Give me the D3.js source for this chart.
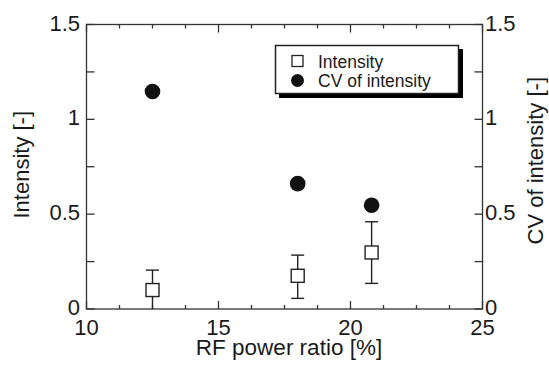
<!DOCTYPE html>
<html><head><meta charset="utf-8">
<script src="https://cdn.jsdelivr.net/npm/d3@7"></script>
<style>
body{margin:0;background:#fff;}
svg text{font-family:"Liberation Sans",Arial,sans-serif;fill:#1a1a1a;}
</style></head>
<body><svg id="c" width="549" height="365"></svg>
<script>
// data
const rfPower = [12.5, 18, 20.8];
const intensity = [0.10, 0.175, 0.298];
const intensityLow = [0.0, 0.056, 0.135];
const intensityHigh = [0.205, 0.284, 0.46];
const cvIntensity = [1.147, 0.661, 0.547];
const xTickLabels = [10, 15, 20, 25];
const yTickLabels = [0, 0.5, 1, 1.5];
const legendLabels = ["Intensity", "CV of intensity"];

const svg = d3.select("#c");
const L = 86.5, R = 482.5, T = 24.5, B = 309;
const x = d3.scaleLinear().domain([10, 25]).range([L, R]);
const y = d3.scaleLinear().domain([0, 1.5]).range([B, T]);
const y2 = d3.scaleLinear().domain([0, 1.5]).range([B, T]);
const axisColor = "#333";

// frame
svg.append("rect").attr("x", L).attr("y", T).attr("width", R - L).attr("height", B - T)
  .attr("fill", "none").attr("stroke", axisColor).attr("stroke-width", 1.3);

// x ticks (inward, bottom and top)
const xMinor = d3.range(10, 25.001, 1.25);
xMinor.forEach(v => {
  const major = Math.abs(v % 5) < 1e-6;
  const len = major ? 8 : 4;
  svg.append("line").attr("x1", x(v)).attr("x2", x(v)).attr("y1", B).attr("y2", B - len)
    .attr("stroke", axisColor).attr("stroke-width", 1.3);
  svg.append("line").attr("x1", x(v)).attr("x2", x(v)).attr("y1", T).attr("y2", T + len)
    .attr("stroke", axisColor).attr("stroke-width", 1.3);
});
// y ticks (inward, left and right)
d3.range(0, 1.5001, 0.25).forEach(v => {
  svg.append("line").attr("x1", L).attr("x2", L + 8).attr("y1", y(v)).attr("y2", y(v))
    .attr("stroke", axisColor).attr("stroke-width", 1.3);
  svg.append("line").attr("x1", R).attr("x2", R - 8).attr("y1", y2(v)).attr("y2", y2(v))
    .attr("stroke", axisColor).attr("stroke-width", 1.3);
});

// tick labels
const fmt = d => String(d);
svg.selectAll(".xl").data(xTickLabels).enter().append("text")
  .attr("x", d => x(d)).attr("y", 335).attr("text-anchor", "middle")
  .attr("font-size", 22).text(fmt);
svg.selectAll(".yl").data(yTickLabels).enter().append("text")
  .attr("x", 80).attr("y", d => y(d) + 6).attr("text-anchor", "end")
  .attr("font-size", 22).text(fmt);
svg.selectAll(".yr").data(yTickLabels).enter().append("text")
  .attr("x", 485).attr("y", d => y2(d) + 6).attr("text-anchor", "start")
  .attr("font-size", 22).text(fmt);

// axis titles
svg.append("text").attr("x", 289).attr("y", 355).attr("text-anchor", "middle")
  .attr("font-size", 22.5).text("RF power ratio [%]");
svg.append("text").attr("transform", `translate(29,${(T + B) / 2 - 2}) rotate(-90)`)
  .attr("text-anchor", "middle").attr("font-size", 22).text("Intensity [-]");
svg.append("text").attr("transform", `translate(543,${(T + B) / 2 - 6}) rotate(-90)`)
  .attr("text-anchor", "middle").attr("font-size", 22).text("CV of intensity [-]");

// error bars
const cap = 6.5;
const g = svg.append("g");
rfPower.forEach((p, i) => {
  const cx = x(p);
  g.append("line").attr("x1", cx).attr("x2", cx).attr("y1", y(intensityLow[i])).attr("y2", y(intensityHigh[i]))
    .attr("stroke", "#222").attr("stroke-width", 1.4);
  [intensityLow[i], intensityHigh[i]].forEach(v => {
    if (v > 0) g.append("line").attr("x1", cx - cap).attr("x2", cx + cap).attr("y1", y(v)).attr("y2", y(v))
      .attr("stroke", "#222").attr("stroke-width", 1.4);
  });
});
// squares
const sq = 13;
g.selectAll(".sq").data(rfPower).enter().append("rect")
  .attr("x", d => x(d) - sq / 2).attr("y", (d, i) => y(intensity[i]) - sq / 2)
  .attr("width", sq).attr("height", sq).attr("fill", "#fff").attr("stroke", "#222").attr("stroke-width", 1.4);
// circles
g.selectAll(".cv").data(rfPower).enter().append("circle")
  .attr("cx", d => x(d)).attr("cy", (d, i) => y2(cvIntensity[i])).attr("r", 7.8)
  .attr("fill", "#111");

// legend
const lg = svg.append("g");
lg.append("rect").attr("x", 279).attr("y", 49).attr("width", 184).attr("height", 49).attr("fill", "#000");
lg.append("rect").attr("x", 275.5).attr("y", 45.5).attr("width", 183).attr("height", 48)
  .attr("fill", "#fff").attr("stroke", "#222").attr("stroke-width", 1.5);
lg.append("rect").attr("x", 292).attr("y", 55.5).attr("width", 11).attr("height", 11)
  .attr("fill", "#fff").attr("stroke", "#222").attr("stroke-width", 1.3);
lg.append("circle").attr("cx", 297.5).attr("cy", 80.5).attr("r", 6.5).attr("fill", "#111");
lg.append("text").attr("x", 318).attr("y", 67.5).attr("font-size", 17.5).text(legendLabels[0]);
lg.append("text").attr("x", 318).attr("y", 87).attr("font-size", 17.5).text(legendLabels[1]);
</script></body></html>
